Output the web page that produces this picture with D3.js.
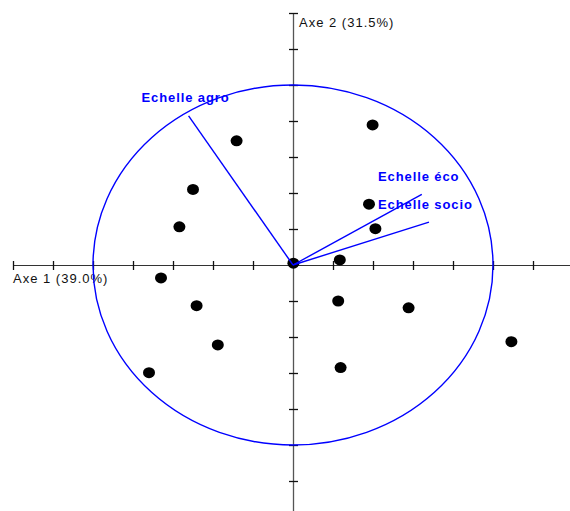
<!DOCTYPE html>
<html>
<head>
<meta charset="utf-8">
<script src="https://cdn.jsdelivr.net/npm/d3@7"></script>
<style>
  html, body { margin: 0; padding: 0; background: #fff; }
  svg { display: block; }
  .axis-label { font-family: "Liberation Sans", Arial, sans-serif; font-size: 13px; letter-spacing: 1px; fill: #111; }
  .var-label { font-family: "Liberation Sans", Arial, sans-serif; font-size: 13px; font-weight: bold; letter-spacing: 0.9px; fill: #0000ff; }
</style>
</head>
<body>
<svg id="chart" width="570" height="511"></svg>
<script>
// Individuals projected on the first factorial plane
const pointX = [-1.41, 1.99, -2.50, 1.90, -2.84, 2.06, 0.01, 1.17, -3.30, -2.41, 1.13, 2.89, -1.88, 5.46, -3.60, 1.19];
const pointY = [3.45, 3.89, 2.10, 1.69, 1.06, 1.01, 0.05, 0.14, -0.36, -1.13, -1.00, -1.19, -2.22, -2.13, -2.99, -2.85];

// Variable vectors (correlation circle, scaled)
const varNames = ["Echelle agro", "Echelle éco", "Echelle socio"];
const varX = [-2.61, 3.22, 3.40];
const varY = [4.14, 1.96, 1.19];

// Axis titles and ticks
const axisTitles = ["Axe 1 (39.0%)", "Axe 2 (31.5%)"];
const tickValues = [-7, -6, -5, -4, -3, -2, -1, 1, 2, 3, 4, 5, 6, 7];
const circleRadius = 5;

const svg = d3.select("#chart");
const W = 570, H = 511;

const x = d3.scaleLinear().domain([-7, 7]).range([13, 573]);
const y = d3.scaleLinear().domain([-7, 7]).range([517, 13]);

const x0 = x(0), y0 = y(0);

// Horizontal axis
svg.append("line")
  .attr("x1", x(-7)).attr("x2", W)
  .attr("y1", y0 + 0.5).attr("y2", y0 + 0.5)
  .attr("stroke", "#333").attr("stroke-width", 1);
svg.append("g").selectAll("line")
  .data(tickValues).join("line")
  .attr("x1", d => Math.round(x(d)) + 0.5).attr("x2", d => Math.round(x(d)) + 0.5)
  .attr("y1", y0 - 4).attr("y2", y0 + 5)
  .attr("stroke", "#111").attr("stroke-width", 1.3);

// Vertical axis
svg.append("line")
  .attr("x1", x0 + 0.5).attr("x2", x0 + 0.5)
  .attr("y1", y(7) + 1).attr("y2", H)
  .attr("stroke", "#555").attr("stroke-width", 1.3);
svg.append("g").selectAll("line")
  .data(tickValues).join("line")
  .attr("x1", x0 - 4).attr("x2", x0 + 5)
  .attr("y1", d => Math.round(y(d)) + 0.5).attr("y2", d => Math.round(y(d)) + 0.5)
  .attr("stroke", "#111").attr("stroke-width", 1.3);

// Axis titles
svg.append("text").attr("class", "axis-label")
  .attr("x", x(-7)).attr("y", y0 + 18)
  .text(axisTitles[0]);
svg.append("text").attr("class", "axis-label")
  .attr("x", x0 + 6).attr("y", y(7) + 14)
  .text(axisTitles[1]);

// Correlation circle
svg.append("ellipse")
  .attr("cx", x0).attr("cy", y0)
  .attr("rx", x(circleRadius) - x0).attr("ry", y0 - y(circleRadius))
  .attr("fill", "none").attr("stroke", "#0000ff").attr("stroke-width", 1.4);

// Individuals
svg.append("g").selectAll("ellipse")
  .data(pointX.map((v, i) => [v, pointY[i]])).join("ellipse")
  .attr("cx", d => x(d[0])).attr("cy", d => y(d[1]))
  .attr("rx", 6).attr("ry", 5.5)
  .attr("fill", "#000");

// Variable vectors
const vars = varNames.map((n, i) => ({ name: n, vx: varX[i], vy: varY[i] }));
svg.append("g").selectAll("line")
  .data(vars).join("line")
  .attr("x1", x0).attr("y1", y0)
  .attr("x2", d => x(d.vx)).attr("y2", d => y(d.vy))
  .attr("stroke", "#0000ff").attr("stroke-width", 1.4);

// Variable labels
const labelPos = [[141.5, 102], [378, 181], [378, 209]];
svg.append("g").selectAll("text")
  .data(vars).join("text")
  .attr("class", "var-label")
  .attr("x", (d, i) => labelPos[i][0]).attr("y", (d, i) => labelPos[i][1])
  .text(d => d.name);
</script>
</body>
</html>
